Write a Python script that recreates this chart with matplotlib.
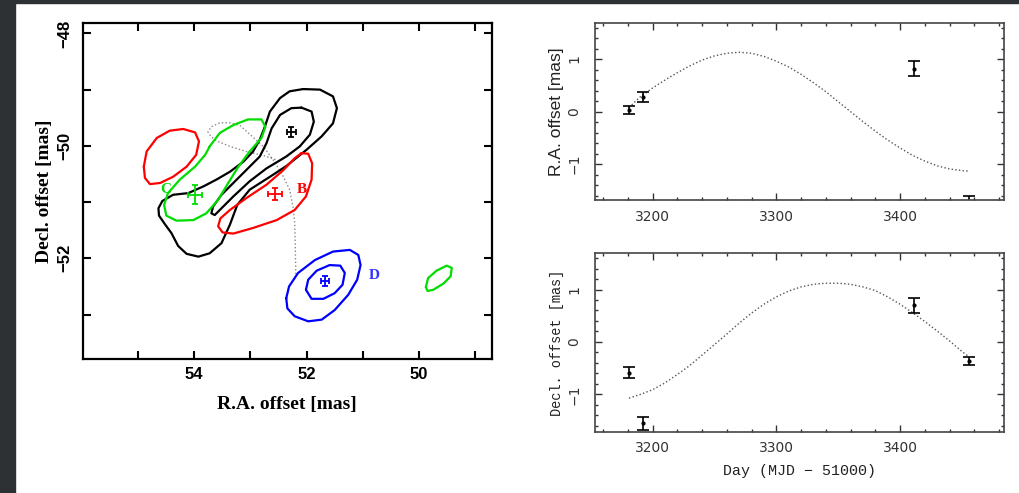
import matplotlib
matplotlib.use("Agg")
import matplotlib.pyplot as plt
from matplotlib.patches import Rectangle
from matplotlib.ticker import MultipleLocator

# --- carte (R.A., Decl.) en mas ---
outer_ra = [52.06, 51.76, 51.53, 51.46, 51.53, 51.73, 52.00, 52.36, 52.65, 53.01, 53.23, 53.36,
            53.51, 53.72, 53.92, 54.13, 54.28, 54.40, 54.51, 54.62, 54.63, 54.56, 54.37, 54.10,
            53.83, 53.60, 53.36, 53.12, 52.95, 52.83, 52.74, 52.65, 52.47, 52.30, 52.06]
outer_dec = [-48.99, -49.00, -49.12, -49.33, -49.60, -49.83, -50.07, -50.36, -50.55, -50.78, -51.05, -51.40,
             -51.73, -51.91, -51.97, -51.92, -51.78, -51.55, -51.40, -51.24, -51.11, -50.98, -50.87, -50.84,
             -50.72, -50.60, -50.46, -50.28, -50.10, -49.89, -49.66, -49.39, -49.15, -49.03, -48.99]

inner_ra = [52.09, 51.91, 51.87, 51.94, 52.12, 52.36, 52.71, 53.01, 53.30, 53.51, 53.63, 53.69,
            53.66, 53.51, 53.27, 53.04, 52.83, 52.71, 52.62, 52.47, 52.27, 52.09]
inner_dec = [-49.32, -49.39, -49.57, -49.80, -50.01, -50.19, -50.40, -50.63, -50.90, -51.11, -51.23, -51.20,
             -51.08, -50.87, -50.63, -50.40, -50.19, -49.95, -49.69, -49.45, -49.33, -49.32]

red_a_ra = [54.89, 54.84, 54.66, 54.43, 54.19, 53.98, 53.91, 53.96, 54.13, 54.37, 54.60, 54.78, 54.87, 54.89]
red_a_dec = [-50.37, -50.10, -49.86, -49.73, -49.70, -49.76, -49.92, -50.16, -50.37, -50.55, -50.66, -50.68, -50.57, -50.37]

red_b_ra = [52.09, 51.97, 51.90, 51.91, 52.01, 52.21, 52.53, 52.95, 53.30, 53.49, 53.57, 53.53,
            53.36, 53.07, 52.71, 52.41, 52.21, 52.09]
red_b_dec = [-50.13, -50.14, -50.31, -50.60, -50.90, -51.14, -51.32, -51.46, -51.56, -51.54, -51.43, -51.29,
             -51.14, -50.93, -50.69, -50.43, -50.22, -50.13]

green_c_ra = [53.72, 53.54, 53.30, 53.04, 52.80, 52.73, 52.80, 53.01, 53.21, 53.39, 53.57, 53.78,
              54.01, 54.31, 54.49, 54.53, 54.46, 54.25, 53.98, 53.80, 53.72]
green_c_dec = [-50.01, -49.77, -49.63, -49.53, -49.53, -49.66, -49.86, -50.10, -50.37, -50.66, -50.96, -51.20,
               -51.32, -51.33, -51.24, -51.05, -50.84, -50.60, -50.37, -50.16, -50.01]

green_e_ra = [49.88, 49.84, 49.69, 49.51, 49.42, 49.44, 49.57, 49.75, 49.85, 49.88]
green_e_dec = [-52.51, -52.35, -52.22, -52.13, -52.17, -52.32, -52.45, -52.56, -52.58, -52.51]

blue_out_ra = [52.36, 52.31, 52.15, 51.85, 51.53, 51.23, 51.08, 51.04, 51.10, 51.26, 51.50, 51.73,
               51.97, 52.21, 52.34, 52.36]
blue_out_dec = [-52.71, -52.50, -52.26, -52.03, -51.88, -51.85, -51.94, -52.12, -52.38, -52.65, -52.92, -53.09,
                -53.12, -53.03, -52.89, -52.71]

blue_in_ra = [52.01, 51.97, 51.82, 51.59, 51.40, 51.32, 51.36, 51.50, 51.70, 51.91, 52.01]
blue_in_dec = [-52.56, -52.38, -52.22, -52.12, -52.13, -52.26, -52.47, -52.62, -52.72, -52.72, -52.56]

path_ra = [52.19, 52.20, 52.21, 52.24, 52.30, 52.41, 52.59, 52.77, 53.01, 53.18, 53.36, 53.54,
           53.69, 53.75, 53.70, 53.60, 53.36, 53.07, 52.77, 52.53]
path_dec = [-52.28, -51.79, -51.37, -51.08, -50.78, -50.55, -50.25, -50.01, -49.79, -49.64, -49.59, -49.59,
            -49.66, -49.75, -49.83, -49.91, -50.01, -50.10, -50.17, -50.25]

# positions des composantes
spot_ra = [52.27, 53.98, 52.56, 51.67]
spot_dec = [-49.75, -50.87, -50.86, -52.40]
spot_era = [0.08, 0.13, 0.13, 0.07]
spot_edec = [0.09, 0.17, 0.11, 0.09]
spot_col = ["black", "#00dd00", "red", "blue"]

labels = ["C", "B", "D"]
label_ra = [54.50, 52.09, 50.79]
label_dec = [-50.78, -50.78, -52.31]
label_col = ["#00dd00", "red", "#3333ff"]

# --- séries temporelles ---
obs_day = [3181, 3192.5, 3411.5, 3456]
obs_ra = [0.03, 0.28, 0.82, -1.73]
obs_ra_err = [0.08, 0.10, 0.14, 0.12]
obs_dec = [-0.585, -1.55, 0.70, -0.36]
obs_dec_err = [0.10, 0.12, 0.14, 0.08]

model_day = [3181, 3190, 3200, 3210, 3220, 3230, 3240, 3250, 3260, 3270, 3280, 3290, 3300, 3310,
             3320, 3330, 3340, 3350, 3360, 3370, 3380, 3390, 3400, 3410, 3420, 3430, 3440, 3450, 3455]
model_ra = [0.08, 0.28, 0.45, 0.60, 0.74, 0.87, 0.98, 1.06, 1.11, 1.13, 1.11, 1.05, 0.96, 0.85,
            0.71, 0.55, 0.38, 0.19, 0.00, -0.19, -0.37, -0.54, -0.69, -0.83, -0.94, -1.03, -1.09, -1.12, -1.13]
model_dec = [-1.07, -1.00, -0.91, -0.78, -0.62, -0.45, -0.25, -0.05, 0.15, 0.36, 0.55, 0.72, 0.86, 0.97,
             1.05, 1.10, 1.12, 1.12, 1.10, 1.05, 0.98, 0.86, 0.72, 0.56, 0.39, 0.21, 0.02, -0.18, -0.27]

W, H = 1019, 493
fig = plt.figure(figsize=(W / 100, H / 100), dpi=100)
fig.add_artist(Rectangle((0, 0), 15 / W, 1, transform=fig.transFigure, color="#2d3134", zorder=-5))
fig.add_artist(Rectangle((0, 1 - 3 / H), 1, 3 / H, transform=fig.transFigure, color="#2d3134", zorder=-5))

# panneau gauche
ax = fig.add_axes([83 / W, 1 - 359 / H, 409.3 / W, 336.3 / H])
ax.set_xlim(55.97, 48.70)
ax.set_ylim(-53.79, -47.81)
lw = 1.6
kw = dict(lw=lw, solid_joinstyle="round", solid_capstyle="round")
ax.plot(path_ra, path_dec, color="#888888", ls=":", lw=1.0)
ax.plot(outer_ra, outer_dec, color="black", **kw)
ax.plot(inner_ra, inner_dec, color="black", **kw)
ax.plot(red_a_ra, red_a_dec, color="red", **kw)
ax.plot(red_b_ra, red_b_dec, color="red", **kw)
ax.plot(green_c_ra, green_c_dec, color="#00dd00", **kw)
ax.plot(green_e_ra, green_e_dec, color="#00dd00", **kw)
ax.plot(blue_out_ra, blue_out_dec, color="blue", **kw)
ax.plot(blue_in_ra, blue_in_dec, color="blue", **kw)
for i in range(len(spot_ra)):
    ax.errorbar(spot_ra[i], spot_dec[i], xerr=spot_era[i], yerr=spot_edec[i], color=spot_col[i],
                lw=1.3, capsize=2, capthick=1.3, fmt="none")
for i in range(len(labels)):
    ax.text(label_ra[i], label_dec[i], labels[i], color=label_col[i], fontsize=11, fontweight="bold",
            family="Liberation Serif", ha="center", va="center")

ax.xaxis.set_major_locator(MultipleLocator(2))
ax.xaxis.set_minor_locator(MultipleLocator(1))
ax.yaxis.set_major_locator(MultipleLocator(2))
ax.yaxis.set_minor_locator(MultipleLocator(1))
ax.tick_params(which="both", direction="in", top=True, right=True, width=1.5, length=6)
ax.tick_params(axis="x", pad=6, labelsize=12)
ax.tick_params(axis="y", pad=8, labelsize=12, labelrotation=90)
for t in ax.get_xticklabels() + ax.get_yticklabels():
    t.set_fontweight("bold")
    t.set_family("Liberation Sans")
for t in ax.get_yticklabels():
    t.set_va("center")
for s in ax.spines.values():
    s.set_linewidth(1.6)
ax.set_xlabel("R.A. offset [mas]", family="Liberation Serif", fontweight="bold", fontsize=14)
ax.set_ylabel("Decl. offset [mas]", family="Liberation Serif", fontweight="bold", fontsize=14)
ax.xaxis.set_label_coords(0.499, -0.110)
ax.yaxis.set_label_coords(-0.074, 0.5)


def time_panel(rect, ylim, vals, errs, model):
    a = fig.add_axes(rect)
    a.set_xlim(3153.5, 3484)
    a.set_ylim(*ylim)
    a.plot(model_day, model, color="#555555", ls=":", lw=1.0)
    a.errorbar(obs_day, vals, yerr=errs, fmt="o", ms=2, color="black", ecolor="black",
               elinewidth=1.2, capsize=4, capthick=1.2)
    a.xaxis.set_major_locator(MultipleLocator(100))
    a.xaxis.set_minor_locator(MultipleLocator(20))
    a.yaxis.set_major_locator(MultipleLocator(1))
    a.yaxis.set_minor_locator(MultipleLocator(0.2))
    a.tick_params(which="both", direction="in", top=True, right=True, width=1.0, colors="#333333")
    a.tick_params(which="major", length=5)
    a.tick_params(which="minor", length=2.5)
    a.tick_params(axis="x", pad=7, labelsize=10)
    a.tick_params(axis="y", pad=10, labelsize=10, labelrotation=90)
    for t in a.get_yticklabels():
        t.set_va("center")
    for s in a.spines.values():
        s.set_linewidth(1.2)
        s.set_color("#444444")
    a.yaxis.set_label_coords(-0.077, 0.5)
    return a


ax1 = time_panel([595 / W, 1 - 200 / H, 409 / W, 176.7 / H], (-1.68, 1.68), obs_ra, obs_ra_err, model_ra)
ax1.set_ylabel("R.A. offset [mas]", family="Liberation Sans", fontsize=12.5, color="#222222")

ax2 = time_panel([595 / W, 1 - 431.7 / H, 409 / W, 178.4 / H], (-1.71, 1.69), obs_dec, obs_dec_err, model_dec)
ax2.set_ylabel("Decl. offset [mas]", family=["Liberation Mono", "DejaVu Sans Mono"], fontsize=9.8, color="#222222")
ax2.set_xlabel("Day (MJD \u2212 51000)", family=["Liberation Mono", "DejaVu Sans Mono"], fontsize=10.8, color="#222222")
ax2.xaxis.set_label_coords(0.5, -0.18)

fig.savefig("out.png", dpi=100)
